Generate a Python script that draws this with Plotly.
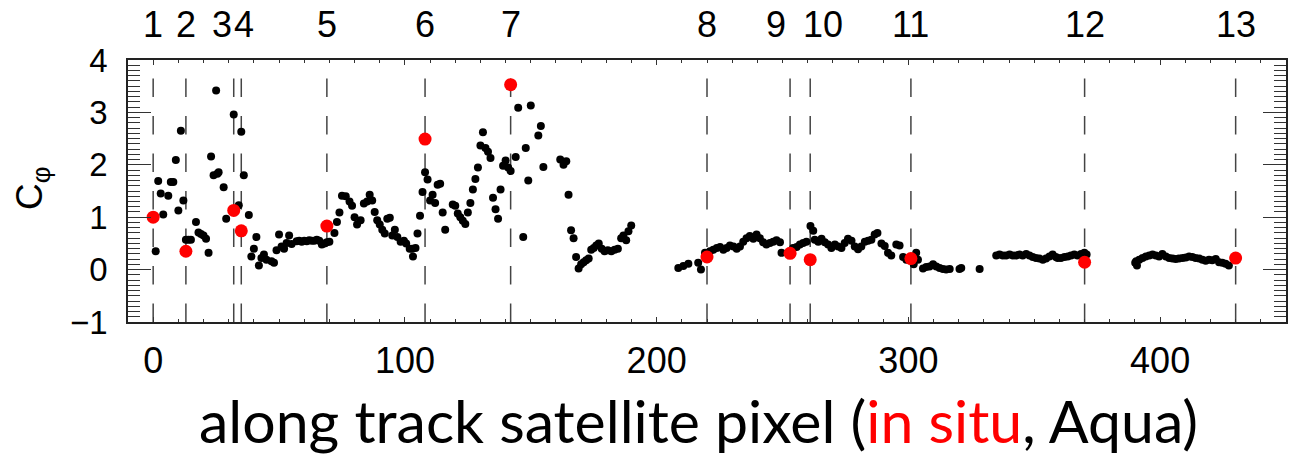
import plotly.graph_objects as go

# ---- in situ match-up points (red) and their index labels ----
insitu_x = [0, 13, 32, 35, 69, 108, 142, 220, 253, 261, 301, 370, 430]
insitu_y = [1.00, 0.35, 1.13, 0.74, 0.83, 2.49, 3.53, 0.24, 0.31, 0.19, 0.21, 0.14, 0.22]
insitu_labels = ["1", "2", "3", "4", "5", "6", "7", "8", "9", "10", "11", "12", "13"]
label_shift_px = [0, 0, -12, 3, 0, 0, 0, 0, -14, 13, 0, 0, 0]

# ---- satellite (Aqua) pixel values (black) ----
seg_a_x = [1, 2, 3, 4, 6, 7, 8, 9, 10, 11, 12, 13, 14, 15, 17, 18, 19, 20, 21, 22, 23, 24, 25, 25.5, 26,
           28, 29, 32, 34, 35, 36, 38, 39, 40, 41, 42, 43, 44, 45, 47, 48, 49, 50, 51, 52, 53, 54, 55,
           57, 58, 59, 60, 61, 62, 63, 64, 65, 66, 67, 68, 69, 70]
seg_a_y = [0.35, 1.69, 1.45, 1.05, 1.41, 1.67, 1.67, 2.09, 1.13, 2.65, 1.32, 0.57, 0.57, 0.57, 0.91, 0.71,
           0.68, 0.65, 0.59, 0.32, 2.16, 1.80, 3.42, 1.83, 1.86, 1.57, 0.97, 2.96, 1.23, 2.63, 1.80, 1.04,
           0.25, 0.40, 0.62, 0.08, 0.22, 0.29, 0.19, 0.16, 0.13, 0.37, 0.67, 0.44, 0.40, 0.51, 0.65, 0.49,
           0.54, 0.55, 0.53, 0.55, 0.54, 0.56, 0.55, 0.55, 0.57, 0.55, 0.48, 0.50, 0.52, 0.53]

seg_b_x = [72, 73, 74, 75, 76.5, 78, 79, 80, 81, 82.4, 83.7, 85, 86, 87, 88, 89, 90, 91, 92, 93, 94, 95, 96,
           97, 98.3, 99.6, 100.5, 101.9, 102.9, 103.2, 104.2,
           105, 106, 107, 108, 109, 110, 111, 112, 113, 114, 115, 116,
           119, 120, 121, 122, 123, 124, 125, 126, 127, 128, 129, 130, 131, 132, 133, 134, 135, 136, 137,
           138, 139, 140, 141, 142, 144, 145]
seg_b_y = [0.70, 0.91, 1.09, 1.41, 1.40, 1.30, 1.22, 1.00, 0.86, 0.94, 1.26, 1.30, 1.43, 1.32, 1.10, 0.94,
           0.86, 0.76, 0.69, 0.97, 0.99, 0.65, 0.76,
           0.62, 0.53, 0.55, 0.50, 0.40, 0.40, 0.25, 0.41,
           0.69, 1.03, 1.48, 1.86, 1.72, 1.32, 1.43, 1.27, 1.62, 1.64, 1.09, 0.76,
           1.24, 1.22, 1.07, 1.00, 0.93, 0.87, 1.09, 1.27, 1.53, 1.73, 1.95, 2.37, 2.62, 2.32, 2.25, 2.13,
           1.37, 1.15, 0.97, 1.53, 1.98, 2.08, 1.95, 1.88, 2.15, 3.09]

seg_c_x = [147, 148, 149, 150, 153, 154, 155, 161.7, 163, 164.1, 165, 166, 167, 168, 169,
           170, 171, 172, 173, 174, 175, 176, 177, 178.2, 179.3, 180.6, 182, 183.3, 184.6,
           185.9, 186.8, 187.9, 188.8, 189.9]
seg_c_y = [0.62, 2.32, 1.70, 3.13, 2.56, 2.74, 1.96, 2.10, 2.00, 2.07, 1.43, 0.75, 0.60, 0.24, 0.02,
           0.10, 0.14, 0.18, 0.21, 0.38, 0.41, 0.46, 0.50, 0.40, 0.35, 0.37, 0.35, 0.38, 0.40,
           0.60, 0.65, 0.56, 0.73, 0.84]

seg_d_x = [208.6, 210.6, 212.6, 216.5, 217.6, 219.2, 221.2, 222.5, 223.9, 225.2, 226.5, 227.8, 229.1,
           230.5, 231.8, 233.1, 234.4, 235.7, 237, 238.4, 239.7, 241, 242.3, 243.6, 245, 246.3, 247.6,
           249, 249.6]
seg_d_y = [0.03, 0.07, 0.11, 0.13, 0.00, 0.32, 0.35, 0.38, 0.41, 0.43, 0.38, 0.41, 0.46, 0.44, 0.40,
           0.44, 0.53, 0.60, 0.64, 0.59, 0.67, 0.60, 0.52, 0.48, 0.51, 0.53, 0.56, 0.52, 0.32]

seg_e_x = [254.2, 255.6, 256.9, 258.2, 259.5, 261.1, 262.2, 262.8, 264.2, 265.5, 266.8, 268.1, 269.4,
           270.8, 272.1, 273.4, 274.7, 276.0, 277.4, 278.7, 280.0, 281.3, 282.7, 284.0, 285.3, 286.6,
           287.7, 289.3, 290.6, 291.9, 293.2, 295.2, 296.5, 297.9, 299.2, 302.1, 303.1, 303.8, 305.8,
           307.1, 308.4, 309.8, 311.1, 312.4, 313.7, 315.0, 316.4, 320.3, 321.0, 328.3]
seg_e_y = [0.41, 0.43, 0.48, 0.51, 0.53, 0.83, 0.74, 0.57, 0.53, 0.59, 0.52, 0.48, 0.41, 0.48, 0.44,
           0.41, 0.51, 0.59, 0.55, 0.44, 0.39, 0.44, 0.53, 0.55, 0.57, 0.67, 0.70, 0.50, 0.45, 0.32,
           0.27, 0.48, 0.46, 0.24, 0.19, 0.10, 0.32, 0.19, 0.02, 0.05, 0.06, 0.10, 0.06, 0.03, 0.01,
           0.00, 0.01, 0.01, 0.03, 0.01]

seg_f_x = [334.9, 336.2, 337.5, 338.8, 340.2, 341.5, 342.8, 344.1, 345.4, 346.8, 348.1, 349.4, 350.7,
           352.0, 353.4, 354.7, 356.0, 357.3, 358.6, 359.3, 360.6, 362.0, 363.3, 364.6, 365.9, 367.2,
           368.6, 369.9, 370.8]
seg_f_y = [0.27, 0.29, 0.27, 0.27, 0.29, 0.27, 0.27, 0.29, 0.27, 0.30, 0.27, 0.24, 0.22, 0.21, 0.19,
           0.21, 0.25, 0.29, 0.24, 0.22, 0.22, 0.24, 0.25, 0.27, 0.29, 0.27, 0.30, 0.32, 0.29]

seg_g_x = [390.1, 390.5, 390.8, 391.7, 393.0, 394.3, 395.7, 397.0, 398.3, 399.6, 400.9, 402.3, 403.6,
           404.9, 406.2, 407.5, 408.9, 410.2, 411.5, 412.8, 414.1, 415.5, 416.8, 418.1, 419.4, 420.7,
           422.1, 423.4, 424.7, 426.0, 427.3]
seg_g_y = [0.13, 0.16, 0.08, 0.19, 0.22, 0.25, 0.27, 0.29, 0.27, 0.25, 0.30, 0.25, 0.22, 0.21, 0.20,
           0.21, 0.22, 0.23, 0.25, 0.24, 0.22, 0.21, 0.19, 0.17, 0.19, 0.18, 0.20, 0.14, 0.13, 0.11, 0.08]

x_ticks = [0, 100, 200, 300, 400]
y_ticks = [-1, 0, 1, 2, 3, 4]
y_tick_text = ["\u22121", "0", "1", "2", "3", "4"]

sat_x = seg_a_x + seg_b_x + seg_c_x + seg_d_x + seg_e_x + seg_f_x + seg_g_x
sat_y = seg_a_y + seg_b_y + seg_c_y + seg_d_y + seg_e_y + seg_f_y + seg_g_y

fig = go.Figure()
fig.add_trace(go.Scatter(x=sat_x, y=sat_y, mode="markers",
                         marker=dict(size=8, color="black", line=dict(width=0)),
                         showlegend=False, hoverinfo="skip"))
fig.add_trace(go.Scatter(x=insitu_x, y=insitu_y, mode="markers",
                         marker=dict(size=13, color="#ff0000", line=dict(width=0)),
                         showlegend=False, hoverinfo="skip"))

for xv in insitu_x:
    fig.add_shape(type="line", xref="x", yref="y", x0=xv, x1=xv, y0=-1, y1=4,
                  line=dict(color="#444444", width=1.5, dash="18.5px,19px"), layer="below")

HELV = "Liberation Sans, Arial, sans-serif"

annotations = []
for xv, lab, sh in zip(insitu_x, insitu_labels, label_shift_px):
    annotations.append(dict(x=xv, y=1.134, xref="x", yref="paper", text=lab, showarrow=False,
                            xanchor="center", yanchor="middle", xshift=sh,
                            font=dict(family=HELV, size=36, color="black")))

annotations.append(dict(x=0.493, y=-0.377, xref="paper", yref="paper", showarrow=False,
                        xanchor="center", yanchor="middle",
                        text="along track satellite pixel (<span style='color:#ff0000'>in situ</span>, Aqua)",
                        font=dict(family="Lato, Noto Sans, sans-serif", size=59, color="black")))
annotations.append(dict(x=-0.083, y=0.511, xref="paper", yref="paper", showarrow=False,
                        xanchor="center", yanchor="middle", textangle=-90,
                        text="C<sub>\u03c6</sub>",
                        font=dict(family=HELV, size=37, color="black")))

fig.update_layout(
    width=1289, height=455,
    margin=dict(l=128, r=1, t=60, b=133),
    paper_bgcolor="white", plot_bgcolor="white",
    annotations=annotations,
    hovermode=False,
    xaxis=dict(range=[-10, 450], tickvals=x_ticks, ticks="inside", ticklen=5, tickwidth=1.2,
               tickcolor="#333333", showline=True, linecolor="#222222", linewidth=1.5,
               mirror="allticks", showgrid=False, zeroline=False,
               tickfont=dict(family=HELV, size=36, color="black"),
               ticklabelstandoff=6,
               minor=dict(dtick=10, ticks="inside", ticklen=3, tickwidth=1, tickcolor="#333333",
                          showgrid=False)),
    yaxis=dict(range=[-1, 4], tickvals=y_ticks, ticktext=y_tick_text, ticks="inside", ticklen=23,
               tickwidth=1.2, tickcolor="#333333", showline=True, linecolor="#222222",
               linewidth=1.5, mirror="allticks", showgrid=False, zeroline=False,
               tickfont=dict(family=HELV, size=33, color="black"), ticklabelstandoff=12,
               minor=dict(dtick=0.1, ticks="inside", ticklen=12, tickwidth=1, tickcolor="#333333",
                          showgrid=False)),
)

# remove the default 8px page margin so the figure sits at the window's top-left corner
fig.write_html("out.html", config={"displayModeBar": False},
               post_script="document.body.style.margin='0';")
